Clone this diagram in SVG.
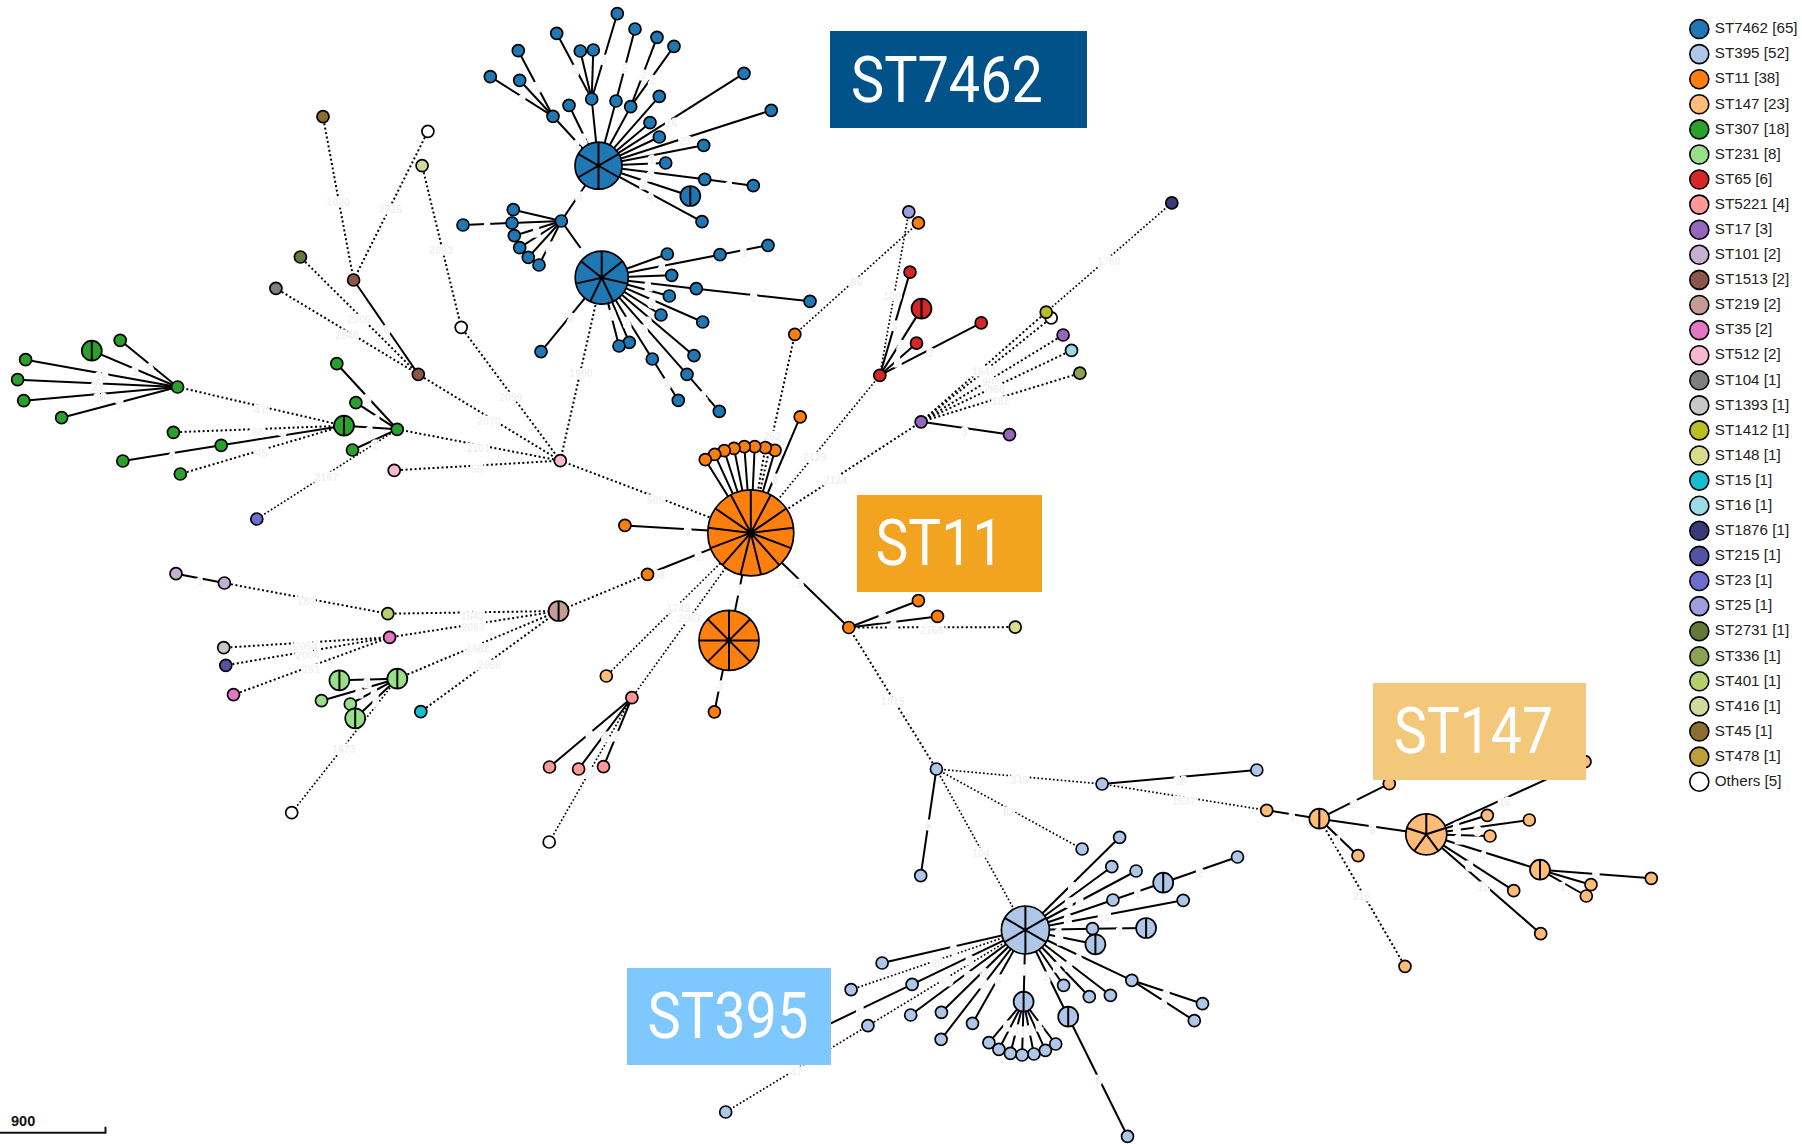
<svg xmlns="http://www.w3.org/2000/svg" width="1802" height="1144" viewBox="0 0 1802 1144">
<style>
.bg{fill:#fff}
#connectors path{fill:none;stroke:#000}
.s{stroke-width:2}
.d{stroke-width:2;stroke-dasharray:2 2.5}
.t{stroke-width:1.7;stroke-dasharray:1.7 2.2}
#edge-labels{filter:blur(.35px)}
.el{font:bold 10.5px "Liberation Sans",Arial,sans-serif;fill:#f0f0f0;text-anchor:middle;stroke:#fff;stroke-width:3;paint-order:stroke;dominant-baseline:central}
.nd circle{stroke:#000;stroke-width:1.7}
.sp{fill:none;stroke:#000;stroke-width:2}
.c0{fill:#1f77b4}.c1{fill:#aec7e8}.c2{fill:#ff7f0e}.c3{fill:#ffbb78}.c4{fill:#2ca02c}.c5{fill:#98df8a}.c6{fill:#d62728}.c7{fill:#ff9896}.c8{fill:#9467bd}.c9{fill:#c5b0d5}.c10{fill:#8c564b}.c11{fill:#c49c94}.c12{fill:#e377c2}.c13{fill:#f7b6d2}.c14{fill:#7f7f7f}.c15{fill:#c7c7c7}.c16{fill:#bcbd22}.c17{fill:#dbdb8d}.c18{fill:#17becf}.c19{fill:#9edae5}.c20{fill:#393b79}.c21{fill:#5254a3}.c22{fill:#6b6ecf}.c23{fill:#9c9ede}.c24{fill:#637939}.c25{fill:#8ca252}.c26{fill:#b5cf6b}.c27{fill:#cedb9c}.c28{fill:#8c6d31}.c29{fill:#bd9e39}.c30{fill:#fff}
.lg text{font:15.2px "Liberation Sans",Arial,sans-serif;fill:#222}
.lg circle{stroke:#000;stroke-width:1.6}
.bl{font:400 64px Roboto,"Liberation Sans",sans-serif;fill:#fff}
.sc{font:bold 14.5px "Liberation Sans",Arial,sans-serif;fill:#111}
</style>
<defs>
<path id="s2" class="sp" d="M0-10V10"/>
<path id="s6a" class="sp" d="M0-23.5V23.5M-20.4-11.8L20.4 11.8M-20.4 11.8L20.4-11.8"/>
<path id="s7" class="sp" d="M0 0V-26.5M0 0L20.7-16.5M0 0L25.8 5.9M0 0L11.5 23.9M0 0L-11.5 23.9M0 0L-25.8 5.9M0 0L-20.7-16.5"/>
<path id="s13" class="sp" d="M0 0V-43M0 0L20-38M0 0L35.4-24.4M0 0L42.7-5.2M0 0L40.2 15.2M0 0L28.5 32.2M0 0L10.3 41.7M0 0L-10.3 41.7M0 0L-28.5 32.2M0 0L-40.2 15.2M0 0L-42.7-5.2M0 0L-35.4-24.4M0 0L-20-38"/>
<path id="s8" class="sp" d="M0-30V30M-30 0H30M-21.2-21.2L21.2 21.2M-21.2 21.2L21.2-21.2"/>
<path id="s5" class="sp" d="M0 0V-20.5M0 0L19.5-6.3M0 0L12 16.6M0 0L-12 16.6M0 0L-19.5-6.3"/>
</defs>
<rect class="bg" width="1802" height="1144"/>
<g id="connectors">
<g id="edges-solid" class="s">
<path class="s" d="M598.5 165.7L553 116.3"/><path class="s" d="M553 116.3L518.3 50.7"/><path class="s" d="M553 116.3L519.7 80.3"/><path class="s" d="M553 116.3L490.3 76.7"/>
<path class="s" d="M598.5 165.7L569 105.3"/><path class="s" d="M598.5 165.7L591.7 99"/><path class="s" d="M591.7 99L556.7 33.3"/><path class="s" d="M591.7 99L580.3 51"/><path class="s" d="M591.7 99L593.3 50"/><path class="s" d="M591.7 99L617.3 13.7"/>
<path class="s" d="M598.5 165.7L616 101"/><path class="s" d="M616 101L635 29"/><path class="s" d="M598.5 165.7L630.7 106.7"/><path class="s" d="M630.7 106.7L657 37.3"/><path class="s" d="M630.7 106.7L674 46.3"/>
<path class="s" d="M598.5 165.7L659.3 96.3"/><path class="s" d="M598.5 165.7L650 122.7"/><path class="s" d="M598.5 165.7L659.3 137"/><path class="s" d="M598.5 165.7L744 73.3"/><path class="s" d="M598.5 165.7L771.3 110.3"/><path class="s" d="M598.5 165.7L703.7 145.3"/><path class="s" d="M598.5 165.7L665.7 163"/><path class="s" d="M598.5 165.7L704.7 179.3"/><path class="s" d="M704.7 179.3L753.3 185.7"/><path class="s" d="M598.5 165.7L690.3 196"/><path class="s" d="M598.5 165.7L702 221.7"/>
<path class="s" d="M598.5 165.7L561.3 221"/><path class="s" d="M561.3 221L601.7 277.7"/><path class="s" d="M561.3 221L513.3 209.7"/><path class="s" d="M561.3 221L512 223"/><path class="s" d="M512 223L463 225"/><path class="s" d="M561.3 221L514.3 235.7"/><path class="s" d="M561.3 221L519.7 247.7"/><path class="s" d="M561.3 221L528.3 257.3"/><path class="s" d="M561.3 221L539 265"/>
<path class="s" d="M601.7 277.7L667.3 254"/><path class="s" d="M601.7 277.7L720 254.7"/><path class="s" d="M720 254.7L768 245.3"/><path class="s" d="M601.7 277.7L671.7 275.3"/><path class="s" d="M601.7 277.7L696.3 288.7"/><path class="s" d="M696.3 288.7L810 301.3"/><path class="s" d="M601.7 277.7L669.3 296"/><path class="s" d="M601.7 277.7L661 315"/><path class="s" d="M601.7 277.7L702.7 322"/><path class="s" d="M601.7 277.7L694 355.7"/><path class="s" d="M601.7 277.7L687 374.3"/><path class="s" d="M687 374.3L719.3 411.3"/><path class="s" d="M601.7 277.7L652.3 359"/><path class="s" d="M652.3 359L678.3 400.3"/><path class="s" d="M601.7 277.7L629.3 342.3"/><path class="s" d="M601.7 277.7L619 346"/><path class="s" d="M601.7 277.7L541 351.7"/>
<path class="s" d="M177.6 387L120.2 340.3"/><path class="s" d="M177.6 387L91.8 350.7"/><path class="s" d="M177.6 387L25.6 359.7"/><path class="s" d="M177.6 387L17.6 379.7"/><path class="s" d="M177.6 387L23.7 400.7"/><path class="s" d="M177.6 387L61.6 417.7"/>
<path class="s" d="M397.2 429.3L336.8 363.7"/><path class="s" d="M397.2 429.3L355.9 402.7"/><path class="s" d="M397.2 429.3L344 425.7"/><path class="s" d="M397.2 429.3L352.5 450"/><path class="s" d="M344 425.7L221.2 445.3"/><path class="s" d="M221.2 445.3L122.8 461"/><path class="s" d="M418.3 374.3L353.6 280"/>
<path class="s" d="M224.4 583L176 573.7"/>
<path class="s" d="M397.3 678.7L339.4 680.3"/><path class="s" d="M397.3 678.7L321.5 700.7"/><path class="s" d="M397.3 678.7L350.3 704"/><path class="s" d="M397.3 678.7L355.2 718.3"/>
<path class="s" d="M631.9 697.7L549.5 767"/><path class="s" d="M631.9 697.7L578.6 769"/><path class="s" d="M631.9 697.7L603.5 766.7"/>
<path class="s" d="M879.8 375.4L910 272.1"/><path class="s" d="M879.8 375.4L921.5 308.6"/><path class="s" d="M879.8 375.4L916.5 343.2"/><path class="s" d="M879.8 375.4L981.2 322.9"/><path class="s" d="M921.1 421.8L1009.5 434.6"/>
<path class="s" d="M750.8 532.9L705.3 459.7"/><path class="s" d="M750.8 532.9L714.7 454.3"/><path class="s" d="M750.8 532.9L724.3 450.7"/><path class="s" d="M750.8 532.9L734 448.3"/><path class="s" d="M750.8 532.9L744.3 446.7"/><path class="s" d="M750.8 532.9L754.7 446.7"/><path class="s" d="M750.8 532.9L775 450.3"/><path class="s" d="M750.8 532.9L800.2 416.8"/>
<path class="s" d="M750.8 532.9L624.9 525.4"/><path class="s" d="M750.8 532.9L647.5 574.3"/><path class="s" d="M750.8 532.9L729 640.4"/><path class="s" d="M729 640.4L714.4 711.8"/><path class="s" d="M750.8 532.9L848.8 627.5"/><path class="s" d="M848.8 627.5L918.4 600.7"/><path class="s" d="M848.8 627.5L937.5 616.4"/>
<path class="s" d="M936.4 769L920.7 875.7"/><path class="s" d="M1102.1 784L1256.8 770"/>
<path class="s" d="M1025.4 930L882.1 963"/><path class="s" d="M1025.4 930L912.1 984.3"/><path class="s" d="M912.1 984.3L790 1043"/><path class="s" d="M1025.4 930L910.7 1015"/><path class="s" d="M1025.4 930L941.4 1012.3"/><path class="s" d="M1025.4 930L941.1 1039.3"/><path class="s" d="M1025.4 930L972.5 1023.3"/><path class="s" d="M1025.4 930L1023.6 1001.7"/><path class="s" d="M1023.6 1001.7L988.9 1042.7"/><path class="s" d="M1023.6 1001.7L998.9 1049.3"/><path class="s" d="M1023.6 1001.7L1010.4 1053.3"/><path class="s" d="M1023.6 1001.7L1022.1 1055"/><path class="s" d="M1023.6 1001.7L1033.9 1054"/><path class="s" d="M1023.6 1001.7L1045.4 1050.3"/><path class="s" d="M1023.6 1001.7L1055.7 1044"/>
<path class="s" d="M1025.4 930L1068.2 1016.7"/><path class="s" d="M1068.2 1016.7L1127.5 1136.3"/><path class="s" d="M1025.4 930L1063.6 985.3"/><path class="s" d="M1025.4 930L1089.3 996.7"/><path class="s" d="M1025.4 930L1110.4 995.3"/><path class="s" d="M1025.4 930L1131.8 980.3"/><path class="s" d="M1131.8 980.3L1202.5 1003.7"/><path class="s" d="M1131.8 980.3L1194.3 1020.7"/><path class="s" d="M1025.4 930L1095.4 944.3"/><path class="s" d="M1025.4 930L1092.5 928.7"/><path class="s" d="M1092.5 928.7L1146.1 928"/><path class="s" d="M1025.4 930L1183.2 900.3"/><path class="s" d="M1025.4 930L1112.9 900"/><path class="s" d="M1112.9 900L1163.2 882.7"/><path class="s" d="M1163.2 882.7L1237.5 857"/><path class="s" d="M1025.4 930L1136.1 871"/><path class="s" d="M1025.4 930L1111.8 866.7"/><path class="s" d="M1025.4 930L1119.6 837.3"/>
<path class="s" d="M1266.7 810.3L1319.3 818.7"/><path class="s" d="M1319.3 818.7L1389.3 783.7"/><path class="s" d="M1319.3 818.7L1358 855.7"/><path class="s" d="M1319.3 818.7L1426.3 834.3"/><path class="s" d="M1426.3 834.3L1585 761.7"/><path class="s" d="M1426.3 834.3L1487.3 815.3"/><path class="s" d="M1426.3 834.3L1529.3 820"/><path class="s" d="M1426.3 834.3L1490 836"/><path class="s" d="M1426.3 834.3L1540 869.7"/><path class="s" d="M1426.3 834.3L1513.7 890.7"/><path class="s" d="M1426.3 834.3L1540.7 933.7"/><path class="s" d="M1540 869.7L1651.3 878.3"/><path class="s" d="M1540 869.7L1591 884.7"/><path class="s" d="M1540 869.7L1586.3 896"/>
</g>
<g id="edges-dotted">
<path class="d" d="M177.6 387L344 425.7"/><path class="d" d="M344 425.7L173.4 432.3"/><path class="d" d="M344 425.7L180.3 474"/><path class="t" d="M397.2 429.3L256.8 519"/><path class="d" d="M397.2 429.3L560.3 460.7"/><path class="d" d="M560.3 460.7L394.2 470.3"/><path class="d" d="M560.3 460.7L418.3 374.3"/><path class="d" d="M560.3 460.7L461.2 327.3"/><path class="d" d="M461.2 327.3L422.1 165.7"/><path class="d" d="M353.6 280L323 116.7"/><path class="d" d="M353.6 280L427.9 131.3"/><path class="d" d="M418.3 374.3L300.4 257"/><path class="d" d="M418.3 374.3L275.9 288.3"/><path class="d" d="M560.3 460.7L601.7 277.7"/><path class="d" d="M560.3 460.7L750.8 532.9"/>
<path class="d" d="M558.6 611L647.4 574.3"/><path class="d" d="M558.6 611L387.8 613.7"/><path class="d" d="M558.6 611L389.6 637.3"/><path class="d" d="M558.6 611L397.3 678.7"/><path class="d" d="M558.6 611L420.8 711.7"/><path class="d" d="M387.8 613.7L224.4 583"/><path class="d" d="M389.6 637.3L223.7 647.7"/><path class="d" d="M389.6 637.3L225.8 665.3"/><path class="d" d="M389.6 637.3L233.5 694.7"/><path class="t" d="M397.3 678.7L291.7 812.7"/><path class="t" d="M631.9 697.7L549.2 842"/><path class="t" d="M750.8 532.9L631.9 697.7"/><path class="t" d="M750.8 532.9L606.3 676"/>
<path class="d" d="M750.8 532.9L794.8 334.3"/><path class="t" d="M794.8 334.3L918.4 222.9"/><path class="t" d="M908.8 211.8L879.8 375.4"/><path class="t" d="M879.8 375.4L750.8 532.9"/><path class="d" d="M750.8 532.9L921.1 421.8"/><path class="d" d="M921.1 421.8L1046.2 312.1"/><path class="d" d="M921.1 421.8L1051.2 317.9"/><path class="d" d="M921.1 421.8L1063.1 335"/><path class="d" d="M921.1 421.8L1071.5 350.4"/><path class="d" d="M921.1 421.8L1079.9 373.2"/><path class="t" d="M1046.2 312.1L1171.8 202.9"/><path class="d" d="M750.8 532.9L765.3 447.7"/><path class="d" d="M848.8 627.5L1015.2 627.1"/><path class="d" d="M848.8 627.5L936.4 769"/>
<path class="t" d="M936.4 769L1025.4 930"/><path class="t" d="M936.4 769L1082.1 849"/><path class="t" d="M936.4 769L1102.1 784"/><path class="t" d="M1102.1 784L1266.7 810.3"/><path class="t" d="M1025.4 930L851.1 989.7"/><path class="t" d="M1025.4 930L867.9 1025.7"/><path class="t" d="M867.9 1025.7L725.7 1112"/><path class="d" d="M1319.3 818.7L1405 966.3"/>
</g>
<g id="edge-labels">
<text class="el" x="338.3" y="201.7">1020</text><text class="el" x="390.4" y="209">2715</text><text class="el" x="441.3" y="250">2093</text><text class="el" x="359" y="319">2005</text><text class="el" x="347" y="335">2040</text><text class="el" x="510.9" y="397.3">2099</text><text class="el" x="489" y="421">2070</text><text class="el" x="581" y="373.3">1990</text><text class="el" x="478.4" y="448">2101</text><text class="el" x="476.8" y="468.7">55</text><text class="el" x="260.2" y="410">47</text><text class="el" x="258.3" y="432.3">66</text><text class="el" x="261.4" y="452.7">45</text><text class="el" x="326.4" y="477.3">2167</text><text class="el" x="386.5" y="330">6</text><text class="el" x="101.4" y="376.7">16</text><text class="el" x="97.6" y="386.7">21</text><text class="el" x="100.3" y="397.7">16</text><text class="el" x="119.4" y="405">7</text><text class="el" x="134.7" y="371.7">3</text><text class="el" x="149.3" y="367.7">4</text><text class="el" x="171.5" y="456.7">4</text><text class="el" x="282.4" y="437.3">7</text><text class="el" x="367.4" y="399.3">3</text><text class="el" x="377" y="420">1</text><text class="el" x="370" y="431">1</text><text class="el" x="375" y="445">1</text>
<text class="el" x="306.1" y="601.3">180</text><text class="el" x="472.7" y="615.7">1643</text><text class="el" x="473.4" y="627.3">2067</text><text class="el" x="478" y="648.3">1682</text><text class="el" x="489.5" y="664.7">2066</text><text class="el" x="306.1" y="646">2054</text><text class="el" x="307.8" y="655">2004</text><text class="el" x="311.3" y="669.3">161</text><text class="el" x="344" y="749">1673</text><text class="el" x="200.2" y="581.7">1</text><text class="el" x="592.6" y="773.3">754</text><text class="el" x="659.3" y="575">98</text><text class="el" x="678.6" y="607.7">1749</text><text class="el" x="690" y="618.3">2067</text><text class="el" x="589.5" y="735">6</text><text class="el" x="605.3" y="736.7">4</text><text class="el" x="616.5" y="735.7">2</text><text class="el" x="367.5" y="682.7">1</text><text class="el" x="359.4" y="693.3">2</text><text class="el" x="374.5" y="693.3">1</text><text class="el" x="376.2" y="702.3">1</text>
<text class="el" x="856.4" y="282.1">96</text><text class="el" x="892" y="296.4">109</text><text class="el" x="1109" y="260.7">1760</text><text class="el" x="983.8" y="371">1640</text><text class="el" x="991" y="381.8">902</text><text class="el" x="996" y="389.3">966</text><text class="el" x="1000.7" y="400.7">182</text><text class="el" x="964.7" y="431.8">3</text><text class="el" x="772.2" y="436.4">262</text><text class="el" x="815" y="457.1">2123</text><text class="el" x="835.4" y="480.4">2124</text><text class="el" x="655.5" y="500">506</text><text class="el" x="687.6" y="532.1">3</text><text class="el" x="698.7" y="556.8">2</text><text class="el" x="799.8" y="583.6">8</text><text class="el" x="931.8" y="630.4">2168</text><text class="el" x="882.4" y="616.8">2</text><text class="el" x="892.8" y="625">4</text><text class="el" x="892.8" y="701.4">1015</text><text class="el" x="894.7" y="326.4">5</text><text class="el" x="900.4" y="345.4">2</text><text class="el" x="897.7" y="362.1">1</text><text class="el" x="930.3" y="352.5">3</text><text class="el" x="739.7" y="590">1</text><text class="el" x="720.6" y="686.4">1</text><text class="el" x="775.3" y="478.6">8</text>
<text class="el" x="1019.6" y="780">345</text><text class="el" x="1180.4" y="780.7">16</text><text class="el" x="1183.9" y="800.7">1637</text><text class="el" x="1008.9" y="812.3">82</text><text class="el" x="928.6" y="825.3">6</text><text class="el" x="981" y="852.7">104</text><text class="el" x="1072" y="886.7">6</text><text class="el" x="1068.6" y="902.7">5</text><text class="el" x="1079.6" y="903.3">5</text><text class="el" x="1137.9" y="894.3">1</text><text class="el" x="1200" y="873.3">2</text><text class="el" x="1104.3" y="918.3">15</text><text class="el" x="1067.9" y="919.3">2</text><text class="el" x="1059" y="932.7">1</text><text class="el" x="1119.6" y="931.7">1</text><text class="el" x="1060.7" y="940">1</text><text class="el" x="1077.9" y="958.3">4</text><text class="el" x="1057" y="966.7">2</text><text class="el" x="1068.9" y="966">2</text><text class="el" x="1046.4" y="977.3">2</text><text class="el" x="1166" y="995">2</text><text class="el" x="1163.2" y="1005">2</text><text class="el" x="1098.2" y="1080">8</text><text class="el" x="1024.3" y="970">1</text><text class="el" x="998.2" y="980">5</text><text class="el" x="984" y="985">4</text><text class="el" x="984" y="973.3">3</text><text class="el" x="967.9" y="976">8</text><text class="el" x="969.6" y="960">9</text><text class="el" x="953.6" y="950">6</text><text class="el" x="937.5" y="963.3">28</text><text class="el" x="946.4" y="980.7">69</text><text class="el" x="860" y="1011.7">5</text><text class="el" x="796.4" y="1071.7">47</text><text class="el" x="1007" y="1026">1</text><text class="el" x="1016.8" y="1030">1</text><text class="el" x="1023.2" y="1031.7">1</text><text class="el" x="1030.4" y="1030">1</text><text class="el" x="1039.3" y="1026">1</text>
<text class="el" x="1292.3" y="817.3">1</text><text class="el" x="1354" y="804.3">2</text><text class="el" x="1372.3" y="830">5</text><text class="el" x="1337.7" y="841">1</text><text class="el" x="1361.7" y="896">216</text><text class="el" x="1504.3" y="801.7">16</text><text class="el" x="1456.7" y="826.7">1</text><text class="el" x="1477.3" y="830.7">3</text><text class="el" x="1458.3" y="839.3">1</text><text class="el" x="1482.7" y="855.7">4</text><text class="el" x="1469.3" y="865.7">5</text><text class="el" x="1483.3" y="887.3">11</text><text class="el" x="1562.7" y="886.7">1</text><text class="el" x="1596" y="876.7">5</text>
<text class="el" x="579.3" y="196.7">4</text><text class="el" x="487.7" y="227.3">1</text><text class="el" x="666.7" y="383.3">1</text><text class="el" x="703.3" y="396">1</text><text class="el" x="571" y="318.3">2</text><text class="el" x="576.7" y="145">1</text><text class="el" x="583.3" y="139.3">1</text><text class="el" x="650" y="196.7">4</text><text class="el" x="643.3" y="184">2</text><text class="el" x="650.7" y="175.7">2</text><text class="el" x="651.7" y="160">1</text><text class="el" x="671.7" y="122.7">16</text><text class="el" x="685" y="141">23</text><text class="el" x="729.3" y="185.7">1</text><text class="el" x="744" y="253.3">1</text><text class="el" x="753.3" y="297.7">6</text><text class="el" x="661.7" y="268.3">4</text><text class="el" x="648.3" y="286">1</text><text class="el" x="651.7" y="303.3">3</text><text class="el" x="647.7" y="321.7">6</text><text class="el" x="644" y="330">5</text><text class="el" x="627.3" y="321.7">2</text><text class="el" x="611.7" y="315">2</text><text class="el" x="536.7" y="231.7">1</text><text class="el" x="549.3" y="246.7">1</text><text class="el" x="582.3" y="253.3">3</text><text class="el" x="521.7" y="100">2</text><text class="el" x="536.7" y="87">2</text><text class="el" x="575" y="70">2</text><text class="el" x="604" y="60">3</text><text class="el" x="625" y="68">2</text><text class="el" x="644" y="75">2</text><text class="el" x="652" y="80">2</text>
</g>
</g>
<g id="nodes-st7462" class="nd c0">
<g id="a1"><circle cx="598.5" cy="165.7" r="23.5"/><use href="#s6a" x="598.5" y="165.7"/></g>
<g id="a2"><circle cx="553" cy="116.3" r="6"/></g><g id="a3"><circle cx="518.3" cy="50.7" r="6"/></g><g id="a4"><circle cx="519.7" cy="80.3" r="6"/></g><g id="a5"><circle cx="490.3" cy="76.7" r="6"/></g><g id="a6"><circle cx="569" cy="105.3" r="6"/></g><g id="a7"><circle cx="591.7" cy="99" r="6"/></g><g id="a8"><circle cx="556.7" cy="33.3" r="6"/></g><g id="a9"><circle cx="580.3" cy="51" r="6"/></g><g id="a10"><circle cx="593.3" cy="50" r="6"/></g><g id="a11"><circle cx="617.3" cy="13.7" r="6"/></g><g id="a12"><circle cx="616" cy="101" r="6"/></g><g id="a13"><circle cx="635" cy="29" r="6"/></g><g id="a14"><circle cx="630.7" cy="106.7" r="6"/></g><g id="a15"><circle cx="657" cy="37.3" r="6"/></g><g id="a16"><circle cx="674" cy="46.3" r="6"/></g><g id="a17"><circle cx="659.3" cy="96.3" r="6"/></g><g id="a18"><circle cx="650" cy="122.7" r="6"/></g><g id="a19"><circle cx="659.3" cy="137" r="6"/></g><g id="a20"><circle cx="744" cy="73.3" r="6"/></g><g id="a21"><circle cx="771.3" cy="110.3" r="6"/></g><g id="a22"><circle cx="703.7" cy="145.3" r="6"/></g><g id="a23"><circle cx="665.7" cy="163" r="6"/></g><g id="a24"><circle cx="704.7" cy="179.3" r="6"/></g><g id="a25"><circle cx="753.3" cy="185.7" r="6"/></g>
<g id="a26"><circle cx="690.3" cy="196" r="10"/><use href="#s2" x="690.3" y="196"/></g>
<g id="a27"><circle cx="702" cy="221.7" r="6"/></g><g id="a28"><circle cx="561.3" cy="221" r="6"/></g><g id="a29"><circle cx="463" cy="225" r="6"/></g><g id="a30"><circle cx="513.3" cy="209.7" r="6"/></g><g id="a31"><circle cx="539" cy="265" r="6"/></g><g id="a32"><circle cx="528.3" cy="257.3" r="6"/></g><g id="a33"><circle cx="519.7" cy="247.7" r="6"/></g><g id="a34"><circle cx="514.3" cy="235.7" r="6"/></g><g id="a35"><circle cx="512" cy="223" r="6"/></g>
<g id="b1"><circle cx="601.7" cy="277.7" r="26.5"/><use href="#s7" x="601.7" y="277.7"/></g>
<g id="b2"><circle cx="667.3" cy="254" r="6"/></g><g id="b3"><circle cx="720" cy="254.7" r="6"/></g><g id="b4"><circle cx="768" cy="245.3" r="6"/></g><g id="b5"><circle cx="671.7" cy="275.3" r="6"/></g><g id="b6"><circle cx="696.3" cy="288.7" r="6"/></g><g id="b7"><circle cx="810" cy="301.3" r="6"/></g><g id="b8"><circle cx="669.3" cy="296" r="6"/></g><g id="b9"><circle cx="661" cy="315" r="6"/></g><g id="b10"><circle cx="702.7" cy="322" r="6"/></g><g id="b11"><circle cx="694" cy="355.7" r="6"/></g><g id="b12"><circle cx="687" cy="374.3" r="6"/></g><g id="b13"><circle cx="719.3" cy="411.3" r="6"/></g><g id="b14"><circle cx="652.3" cy="359" r="6"/></g><g id="b15"><circle cx="678.3" cy="400.3" r="6"/></g><g id="b16"><circle cx="629.3" cy="342.3" r="6"/></g><g id="b17"><circle cx="619" cy="346" r="6"/></g><g id="b18"><circle cx="541" cy="351.7" r="6"/></g>
</g>
<g id="nodes-st307" class="nd c4">
<g id="g1"><circle cx="177.6" cy="387" r="6"/></g><g id="g2"><circle cx="120.2" cy="340.3" r="6"/></g>
<g id="g3"><circle cx="91.8" cy="350.7" r="10"/><use href="#s2" x="91.8" y="350.7"/></g>
<g id="g4"><circle cx="25.6" cy="359.7" r="6"/></g><g id="g5"><circle cx="17.6" cy="379.7" r="6"/></g><g id="g6"><circle cx="23.7" cy="400.7" r="6"/></g><g id="g7"><circle cx="61.6" cy="417.7" r="6"/></g><g id="g8"><circle cx="397.2" cy="429.3" r="6"/></g><g id="g9"><circle cx="336.8" cy="363.7" r="6"/></g><g id="g10"><circle cx="355.9" cy="402.7" r="6"/></g>
<g id="g11"><circle cx="344" cy="425.7" r="10"/><use href="#s2" x="344" y="425.7"/></g>
<g id="g12"><circle cx="352.5" cy="450" r="6"/></g><g id="g13"><circle cx="173.4" cy="432.3" r="6"/></g><g id="g14"><circle cx="221.2" cy="445.3" r="6"/></g><g id="g15"><circle cx="122.8" cy="461" r="6"/></g><g id="g16"><circle cx="180.3" cy="474" r="6"/></g>
</g>
<g id="nodes-others" class="nd">
<g id="o1" class="c28"><circle cx="323" cy="116.7" r="6"/></g>
<g id="o2" class="c30"><circle cx="427.9" cy="131.3" r="6"/></g>
<g id="o3" class="c27"><circle cx="422.1" cy="165.7" r="6"/></g>
<g id="o4" class="c24"><circle cx="300.4" cy="257" r="6"/></g>
<g id="o5" class="c14"><circle cx="275.9" cy="288.3" r="6"/></g>
<g id="o6" class="c10"><circle cx="353.6" cy="280" r="6"/></g>
<g id="o7" class="c10"><circle cx="418.3" cy="374.3" r="6"/></g>
<g id="o8" class="c30"><circle cx="461.2" cy="327.3" r="6"/></g>
<g id="o9" class="c13"><circle cx="560.3" cy="460.7" r="6"/></g>
<g id="o10" class="c13"><circle cx="394.2" cy="470.3" r="6"/></g>
<g id="o11" class="c22"><circle cx="256.8" cy="519" r="6"/></g>
<g id="o12" class="c9"><circle cx="176" cy="573.7" r="6"/></g>
<g id="o13" class="c9"><circle cx="224.4" cy="583" r="6"/></g>
<g id="o14" class="c26"><circle cx="387.8" cy="613.7" r="6"/></g>
<g id="o15" class="c12"><circle cx="389.6" cy="637.3" r="6"/></g>
<g id="o16" class="c15"><circle cx="223.7" cy="647.7" r="6"/></g>
<g id="o17" class="c21"><circle cx="225.8" cy="665.3" r="6"/></g>
<g id="o18" class="c12"><circle cx="233.5" cy="694.7" r="6"/></g>
<g id="o19" class="c11"><circle cx="558.6" cy="611" r="10"/><use href="#s2" x="558.6" y="611"/></g>
<g id="o20" class="c5"><circle cx="321.5" cy="700.7" r="6"/></g>
<g id="o21" class="c5"><circle cx="350.3" cy="704" r="6"/></g>
<g id="o22" class="c5"><circle cx="339.4" cy="680.3" r="10"/><use href="#s2" x="339.4" y="680.3"/></g>
<g id="o23" class="c5"><circle cx="397.3" cy="678.7" r="10"/><use href="#s2" x="397.3" y="678.7"/></g>
<g id="o24" class="c5"><circle cx="355.2" cy="718.3" r="10"/><use href="#s2" x="355.2" y="718.3"/></g>
<g id="o25" class="c18"><circle cx="420.8" cy="711.7" r="6"/></g>
<g id="o26" class="c30"><circle cx="291.7" cy="812.7" r="6"/></g>
<g id="o27" class="c3"><circle cx="606.3" cy="676" r="6"/></g>
<g id="o28" class="c7"><circle cx="631.9" cy="697.7" r="6"/></g>
<g id="o29" class="c7"><circle cx="549.5" cy="767" r="6"/></g>
<g id="o30" class="c7"><circle cx="578.6" cy="769" r="6"/></g>
<g id="o31" class="c7"><circle cx="603.5" cy="766.7" r="6"/></g>
<g id="o32" class="c30"><circle cx="549.2" cy="842" r="6"/></g>
<g id="o33" class="c23"><circle cx="908.8" cy="211.8" r="6"/></g>
<g id="o34" class="c20"><circle cx="1171.8" cy="202.9" r="6"/></g>
<g id="o35" class="c6"><circle cx="910" cy="272.1" r="6"/></g>
<g id="o36" class="c6"><circle cx="921.5" cy="308.6" r="10"/><use href="#s2" x="921.5" y="308.6"/></g>
<g id="o37" class="c6"><circle cx="916.5" cy="343.2" r="6"/></g>
<g id="o38" class="c6"><circle cx="981.2" cy="322.9" r="6"/></g>
<g id="o39" class="c6"><circle cx="879.8" cy="375.4" r="6"/></g>
<g id="o40" class="c30"><circle cx="1051.2" cy="317.9" r="6"/></g>
<g id="o41" class="c16"><circle cx="1046.2" cy="312.1" r="6"/></g>
<g id="o42" class="c8"><circle cx="1063.1" cy="335" r="6"/></g>
<g id="o43" class="c19"><circle cx="1071.5" cy="350.4" r="6"/></g>
<g id="o44" class="c25"><circle cx="1079.9" cy="373.2" r="6"/></g>
<g id="o45" class="c8"><circle cx="921.1" cy="421.8" r="6"/></g>
<g id="o46" class="c8"><circle cx="1009.5" cy="434.6" r="6"/></g>
<g id="o47" class="c17"><circle cx="1015.2" cy="627.1" r="6"/></g>
</g>
<g id="nodes-st11" class="nd c2">
<g id="e1"><circle cx="918.4" cy="222.9" r="6"/></g><g id="e2"><circle cx="794.8" cy="334.3" r="6"/></g><g id="e3"><circle cx="800.2" cy="416.8" r="6"/></g>
<g id="e4"><circle cx="750.8" cy="532.9" r="43"/><use href="#s13" x="750.8" y="532.9"/></g>
<g id="e5"><circle cx="775" cy="450.3" r="6"/></g><g id="e6"><circle cx="765.3" cy="447.7" r="6"/></g><g id="e7"><circle cx="754.7" cy="446.7" r="6"/></g><g id="e8"><circle cx="744.3" cy="446.7" r="6"/></g><g id="e9"><circle cx="734" cy="448.3" r="6"/></g><g id="e10"><circle cx="724.3" cy="450.7" r="6"/></g><g id="e11"><circle cx="714.7" cy="454.3" r="6"/></g><g id="e12"><circle cx="705.3" cy="459.7" r="6"/></g>
<g id="e13"><circle cx="729" cy="640.4" r="30"/><use href="#s8" x="729" y="640.4"/></g>
<g id="e14"><circle cx="714.4" cy="711.8" r="6"/></g><g id="e15"><circle cx="624.9" cy="525.4" r="6"/></g><g id="e16"><circle cx="647.5" cy="574.3" r="6"/></g><g id="e17"><circle cx="848.8" cy="627.5" r="6"/></g><g id="e18"><circle cx="918.4" cy="600.7" r="6"/></g><g id="e19"><circle cx="937.5" cy="616.4" r="6"/></g>
</g>
<g id="nodes-st395" class="nd c1">
<g id="f1"><circle cx="936.4" cy="769" r="6"/></g><g id="f2"><circle cx="920.7" cy="875.7" r="6"/></g><g id="f3"><circle cx="1102.1" cy="784" r="6"/></g><g id="f4"><circle cx="1256.8" cy="770" r="6"/></g><g id="f5"><circle cx="1082.1" cy="849" r="6"/></g>
<g id="f6"><circle cx="1025.4" cy="930" r="24"/><use href="#s6a" x="1025.4" y="930"/></g>
<g id="f7"><circle cx="1119.6" cy="837.3" r="6"/></g><g id="f8"><circle cx="1111.8" cy="866.7" r="6"/></g><g id="f9"><circle cx="1136.1" cy="871" r="6"/></g><g id="f10"><circle cx="1112.9" cy="900" r="6"/></g>
<g id="f11"><circle cx="1163.2" cy="882.7" r="10"/><use href="#s2" x="1163.2" y="882.7"/></g>
<g id="f12"><circle cx="1237.5" cy="857" r="6"/></g><g id="f13"><circle cx="1183.2" cy="900.3" r="6"/></g><g id="f14"><circle cx="1092.5" cy="928.7" r="6"/></g>
<g id="f15"><circle cx="1146.1" cy="928" r="10"/><use href="#s2" x="1146.1" y="928"/></g>
<g id="f16"><circle cx="1095.4" cy="944.3" r="10"/><use href="#s2" x="1095.4" y="944.3"/></g>
<g id="f17"><circle cx="1131.8" cy="980.3" r="6"/></g><g id="f18"><circle cx="1202.5" cy="1003.7" r="6"/></g><g id="f19"><circle cx="1194.3" cy="1020.7" r="6"/></g><g id="f20"><circle cx="1110.4" cy="995.3" r="6"/></g><g id="f21"><circle cx="1089.3" cy="996.7" r="6"/></g><g id="f22"><circle cx="1063.6" cy="985.3" r="6"/></g>
<g id="f23"><circle cx="1068.2" cy="1016.7" r="10"/><use href="#s2" x="1068.2" y="1016.7"/></g>
<g id="f24"><circle cx="1127.5" cy="1136.3" r="6"/></g>
<g id="f25"><circle cx="1023.6" cy="1001.7" r="10"/><use href="#s2" x="1023.6" y="1001.7"/></g>
<g id="f26"><circle cx="988.9" cy="1042.7" r="6"/></g><g id="f27"><circle cx="998.9" cy="1049.3" r="6"/></g><g id="f28"><circle cx="1055.7" cy="1044" r="6"/></g><g id="f29"><circle cx="1045.4" cy="1050.3" r="6"/></g><g id="f30"><circle cx="1010.4" cy="1053.3" r="6"/></g><g id="f31"><circle cx="1033.9" cy="1054" r="6"/></g><g id="f32"><circle cx="1022.1" cy="1055" r="6"/></g>
<g id="f33"><circle cx="972.5" cy="1023.3" r="6"/></g><g id="f34"><circle cx="941.1" cy="1039.3" r="6"/></g><g id="f35"><circle cx="941.4" cy="1012.3" r="6"/></g><g id="f36"><circle cx="910.7" cy="1015" r="6"/></g><g id="f37"><circle cx="912.1" cy="984.3" r="6"/></g><g id="f38"><circle cx="882.1" cy="963" r="6"/></g><g id="f39"><circle cx="851.1" cy="989.7" r="6"/></g><g id="f40"><circle cx="867.9" cy="1025.7" r="6"/></g><g id="f41"><circle cx="725.7" cy="1112" r="6"/></g>
</g>
<g id="nodes-st147" class="nd c3">
<g id="h1"><circle cx="1266.7" cy="810.3" r="6"/></g>
<g id="h2"><circle cx="1319.3" cy="818.7" r="10"/><use href="#s2" x="1319.3" y="818.7"/></g>
<g id="h3"><circle cx="1389.3" cy="783.7" r="6"/></g><g id="h4"><circle cx="1358" cy="855.7" r="6"/></g><g id="h5"><circle cx="1405" cy="966.3" r="6"/></g>
<g id="h6"><circle cx="1426.3" cy="834.3" r="20.5"/><use href="#s5" x="1426.3" y="834.3"/></g>
<g id="h7"><circle cx="1585" cy="761.7" r="6"/></g><g id="h8"><circle cx="1487.3" cy="815.3" r="6"/></g><g id="h9"><circle cx="1529.3" cy="820" r="6"/></g><g id="h10"><circle cx="1490" cy="836" r="6"/></g>
<g id="h11"><circle cx="1540" cy="869.7" r="10"/><use href="#s2" x="1540" y="869.7"/></g>
<g id="h12"><circle cx="1651.3" cy="878.3" r="6"/></g><g id="h13"><circle cx="1591" cy="884.7" r="6"/></g><g id="h14"><circle cx="1586.3" cy="896" r="6"/></g><g id="h15"><circle cx="1513.7" cy="890.7" r="6"/></g><g id="h16"><circle cx="1540.7" cy="933.7" r="6"/></g>
</g>
<g id="cluster-labels">
<g id="label-st7462"><rect x="830" y="31" width="257" height="97" fill="#005288"/><text class="bl" x="851" y="101.5" textLength="192" lengthAdjust="spacingAndGlyphs">ST7462</text></g>
<g id="label-st11"><rect x="857" y="495" width="185" height="97" fill="#f2a320"/><text class="bl" x="875.5" y="565" textLength="128" lengthAdjust="spacingAndGlyphs">ST11</text></g>
<g id="label-st147"><rect x="1373" y="683" width="213" height="97" fill="#f4c87b"/><text class="bl" x="1394" y="752.7" textLength="159" lengthAdjust="spacingAndGlyphs">ST147</text></g>
<g id="label-st395"><rect x="627" y="968" width="204" height="97" fill="#7ec8ff"/><text class="bl" x="647.5" y="1038" textLength="161" lengthAdjust="spacingAndGlyphs">ST395</text></g>
</g>
<g id="legend" class="lg">
<g class="c0"><circle cx="1699.3" cy="29" r="9.5"/></g><text x="1714.8" y="33.2">ST7462 [65]</text>
<g class="c1"><circle cx="1699.3" cy="54.1" r="9.5"/></g><text x="1714.8" y="58.3">ST395 [52]</text>
<g class="c2"><circle cx="1699.3" cy="79.2" r="9.5"/></g><text x="1714.8" y="83.4">ST11 [38]</text>
<g class="c3"><circle cx="1699.3" cy="104.3" r="9.5"/></g><text x="1714.8" y="108.5">ST147 [23]</text>
<g class="c4"><circle cx="1699.3" cy="129.4" r="9.5"/></g><text x="1714.8" y="133.6">ST307 [18]</text>
<g class="c5"><circle cx="1699.3" cy="154.5" r="9.5"/></g><text x="1714.8" y="158.7">ST231 [8]</text>
<g class="c6"><circle cx="1699.3" cy="179.5" r="9.5"/></g><text x="1714.8" y="183.7">ST65 [6]</text>
<g class="c7"><circle cx="1699.3" cy="204.6" r="9.5"/></g><text x="1714.8" y="208.8">ST5221 [4]</text>
<g class="c8"><circle cx="1699.3" cy="229.7" r="9.5"/></g><text x="1714.8" y="233.9">ST17 [3]</text>
<g class="c9"><circle cx="1699.3" cy="254.8" r="9.5"/></g><text x="1714.8" y="259">ST101 [2]</text>
<g class="c10"><circle cx="1699.3" cy="279.9" r="9.5"/></g><text x="1714.8" y="284.1">ST1513 [2]</text>
<g class="c11"><circle cx="1699.3" cy="305" r="9.5"/></g><text x="1714.8" y="309.2">ST219 [2]</text>
<g class="c12"><circle cx="1699.3" cy="330.1" r="9.5"/></g><text x="1714.8" y="334.3">ST35 [2]</text>
<g class="c13"><circle cx="1699.3" cy="355.2" r="9.5"/></g><text x="1714.8" y="359.4">ST512 [2]</text>
<g class="c14"><circle cx="1699.3" cy="380.3" r="9.5"/></g><text x="1714.8" y="384.5">ST104 [1]</text>
<g class="c15"><circle cx="1699.3" cy="405.4" r="9.5"/></g><text x="1714.8" y="409.6">ST1393 [1]</text>
<g class="c16"><circle cx="1699.3" cy="430.4" r="9.5"/></g><text x="1714.8" y="434.6">ST1412 [1]</text>
<g class="c17"><circle cx="1699.3" cy="455.5" r="9.5"/></g><text x="1714.8" y="459.7">ST148 [1]</text>
<g class="c18"><circle cx="1699.3" cy="480.6" r="9.5"/></g><text x="1714.8" y="484.8">ST15 [1]</text>
<g class="c19"><circle cx="1699.3" cy="505.7" r="9.5"/></g><text x="1714.8" y="509.9">ST16 [1]</text>
<g class="c20"><circle cx="1699.3" cy="530.8" r="9.5"/></g><text x="1714.8" y="535">ST1876 [1]</text>
<g class="c21"><circle cx="1699.3" cy="555.9" r="9.5"/></g><text x="1714.8" y="560.1">ST215 [1]</text>
<g class="c22"><circle cx="1699.3" cy="581" r="9.5"/></g><text x="1714.8" y="585.2">ST23 [1]</text>
<g class="c23"><circle cx="1699.3" cy="606.1" r="9.5"/></g><text x="1714.8" y="610.3">ST25 [1]</text>
<g class="c24"><circle cx="1699.3" cy="631.2" r="9.5"/></g><text x="1714.8" y="635.4">ST2731 [1]</text>
<g class="c25"><circle cx="1699.3" cy="656.3" r="9.5"/></g><text x="1714.8" y="660.5">ST336 [1]</text>
<g class="c26"><circle cx="1699.3" cy="681.3" r="9.5"/></g><text x="1714.8" y="685.5">ST401 [1]</text>
<g class="c27"><circle cx="1699.3" cy="706.4" r="9.5"/></g><text x="1714.8" y="710.6">ST416 [1]</text>
<g class="c28"><circle cx="1699.3" cy="731.5" r="9.5"/></g><text x="1714.8" y="735.7">ST45 [1]</text>
<g class="c29"><circle cx="1699.3" cy="756.6" r="9.5"/></g><text x="1714.8" y="760.8">ST478 [1]</text>
<g class="c30"><circle cx="1699.3" cy="781.7" r="9.5"/></g><text x="1714.8" y="785.9">Others [5]</text>
</g>
<g id="scale"><path d="M0 1132.7H105.5V1126.7" fill="none" stroke="#111" stroke-width="2"/><text class="sc" x="11" y="1126">900</text></g>
</svg>
